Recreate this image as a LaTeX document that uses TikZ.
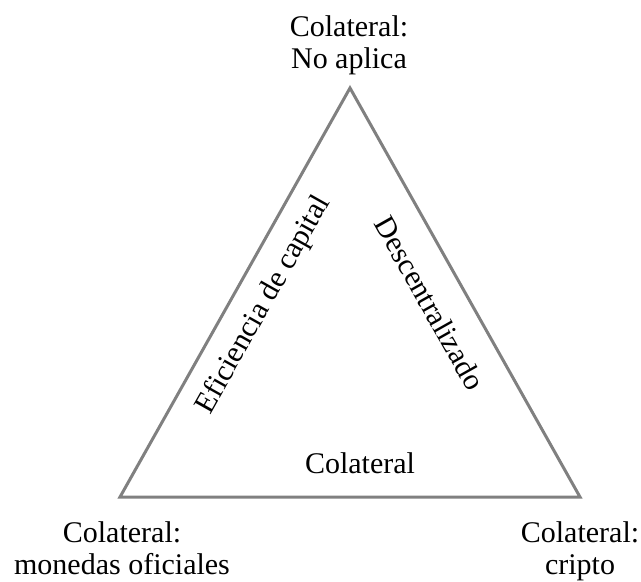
\documentclass[tikz,border=0pt]{standalone}
\usepackage{fontspec}
\setmainfont{Liberation Serif}
\begin{document}
\begin{tikzpicture}[x=0.5pt,y=-0.5pt,
  edge/.style={draw=black!50, line width=1.5pt, line join=miter},
  lbl/.style={font=\fontsize{15}{16}\selectfont, inner sep=0pt, align=center},
  sidelbl/.style={font=\fontsize{15}{16}\selectfont, inner sep=0pt}]
  \useasboundingbox (0,0) rectangle (641,582);
  % triangle corners
  \coordinate (T) at (350,88);
  \coordinate (L) at (120,497);
  \coordinate (R) at (580,497);
  \draw[edge] (T) -- (L) -- (R) -- cycle;
  % corner labels
  \node[lbl] (top) at (349,46.6) {\strut Colateral:\\\strut No aplica};
  \node[lbl] (left) at (122,551.6) {\strut Colateral:\\\strut monedas oficiales};
  \node[lbl] (right) at (580,551.6) {\strut Colateral:\\\strut cripto};
  % side labels
  \node[sidelbl, rotate=60.6] (eff) at (264,305) {Eficiencia de capital};
  \node[sidelbl, rotate=-60.6] (dec) at (430,303) {Descentralizado};
  \node[lbl] (col) at (360,466.6) {\strut Colateral};
\end{tikzpicture}
\end{document}
